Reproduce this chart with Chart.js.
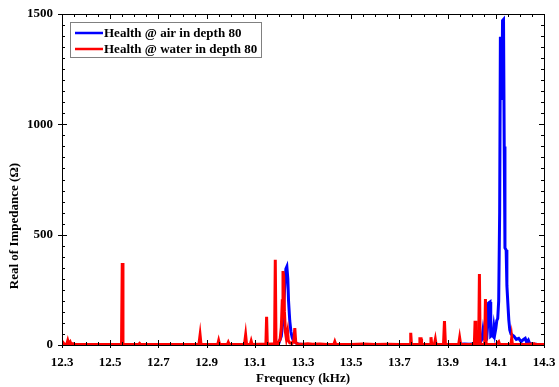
<!DOCTYPE html>
<html>
<head>
<meta charset="utf-8">
<script src="https://cdn.jsdelivr.net/npm/chart.js@4"></script>
<style>
  html, body { margin: 0; padding: 0; background: #fff; }
  #wrap { width: 559px; height: 387px; }
</style>
</head>
<body>
<div id="wrap"><canvas id="canvas" width="559" height="387"></canvas></div>
<script>
// frequency (kHz) / real impedance (ohm)
const freqAir = [
  12.300, 12.800, 13.100, 13.180, 13.190, 13.200, 13.210, 13.215, 13.220, 13.225,
  13.229, 13.233, 13.237, 13.240, 13.245, 13.250, 13.255, 13.260, 13.270, 13.280,
  13.300, 13.600, 13.900, 13.950, 13.970, 13.990, 14.000, 14.020, 14.035, 14.042,
  14.047, 14.052, 14.058, 14.062, 14.067, 14.070, 14.076, 14.079, 14.084, 14.088,
  14.092, 14.096, 14.100, 14.104, 14.108, 14.112, 14.116, 14.119, 14.122, 14.125,
  14.128, 14.132, 14.135, 14.138, 14.143, 14.146, 14.150, 14.154, 14.158, 14.163,
  14.168, 14.175, 14.185, 14.195, 14.205, 14.215, 14.222, 14.228, 14.235, 14.240,
  14.250, 14.270, 14.300
];
const impAir = [
  2, 2, 2, 3, 5, 10, 40, 90, 180, 280,
  345, 355, 300, 200, 110, 60, 35, 20, 10, 5,
  2, 2, 2, 3, 5, 3, 5, 6, 10, 25,
  68, 30, 20, 25, 100, 190, 195, 40, 45, 40,
  83, 50, 75, 110, 120, 200, 600, 1390, 1390, 1110,
  1470, 1475, 900, 440, 430, 270, 190, 113, 68, 50,
  45, 40, 25, 30, 15, 25, 30, 12, 22, 8,
  5, 3, 2
];

const freqWater = [
  12.300, 12.305, 12.310, 12.320, 12.324, 12.328, 12.334, 12.338, 12.345, 12.350,
  12.450, 12.547, 12.550, 12.553, 12.618, 12.622, 12.626, 12.700, 12.868, 12.873,
  12.877, 12.946, 12.950, 12.954, 12.986, 12.990, 12.994, 13.057, 13.062, 13.066,
  13.081, 13.085, 13.089, 13.120, 13.146, 13.149, 13.152, 13.170, 13.182, 13.185,
  13.188, 13.196, 13.200, 13.205, 13.210, 13.214, 13.217, 13.220, 13.223, 13.227,
  13.231, 13.236, 13.239, 13.245, 13.255, 13.262, 13.266, 13.270, 13.280, 13.300,
  13.320, 13.340, 13.370, 13.400, 13.428, 13.432, 13.436, 13.500, 13.550, 13.600,
  13.650, 13.700, 13.744, 13.747, 13.750, 13.783, 13.785, 13.790, 13.792, 13.828,
  13.831, 13.834, 13.845, 13.849, 13.852, 13.883, 13.887, 13.891, 13.946, 13.950,
  13.954, 13.990, 14.011, 14.014, 14.017, 14.029, 14.032, 14.035, 14.054, 14.057,
  14.060, 14.100, 14.112, 14.116, 14.163, 14.166, 14.169, 14.220, 14.260, 14.265,
  14.300
];
const impWater = [
  3, 10, 3, 4, 20, 4, 14, 3, 6, 2,
  2, 2, 372, 2, 2, 7, 2, 2, 2, 45,
  2, 2, 20, 2, 2, 12, 2, 2, 45, 2,
  2, 18, 2, 3, 3, 128, 3, 5, 4, 386,
  5, 4, 15, 25, 80, 200, 335, 310, 150, 60,
  30, 60, 20, 10, 8, 20, 77, 10, 3, 3,
  6, 3, 5, 2, 2, 15, 2, 2, 4, 2,
  3, 2, 3, 55, 3, 2, 28, 28, 2, 2,
  35, 5, 3, 25, 3, 2, 108, 2, 3, 32,
  3, 2, 2, 110, 2, 2, 322, 2, 2, 208,
  2, 2, 15, 2, 2, 32, 2, 2, 5, 2,
  2
];

const xTicks = [12.3, 12.5, 12.7, 12.9, 13.1, 13.3, 13.5, 13.7, 13.9, 14.1, 14.3];
const xTickLabels = ['12.3', '12.5', '12.7', '12.9', '13.1', '13.3', '13.5', '13.7', '13.9', '14.1', '14.3'];
const yTicks = [0, 500, 1000, 1500];
const yTickLabels = ['0', '500', '1000', '1500'];

const seriesNames = ['Health @ air in depth 80', 'Health @ water in depth 80'];
const seriesColors = ['#0000ff', '#ff0000'];

const FONT = '"Liberation Serif", "Times New Roman", serif';

const toPoints = (fs, vs) => fs.map((f, i) => ({ x: f, y: vs[i] }));

// no extra room for overhanging tick labels, keep the plot box fixed
const noPad = s => { s.paddingLeft = s.paddingRight = s.paddingTop = s.paddingBottom = 0; };

// frame, inward ticks, legend and axis titles
const framePlugin = {
  id: 'frame',
  afterDraw(chart) {
    const { ctx, chartArea: a, scales } = chart;
    const xs = scales.x, ys = scales.y;
    ctx.save();
    ctx.strokeStyle = '#000';
    ctx.lineWidth = 1;
    ctx.strokeRect(Math.round(a.left) + 0.5, Math.round(a.top) + 0.5,
      Math.round(a.right - a.left), Math.round(a.bottom - a.top));

    const line = (x1, y1, x2, y2) => {
      ctx.beginPath(); ctx.moveTo(x1, y1); ctx.lineTo(x2, y2); ctx.stroke();
    };
    // minor ticks
    for (let v = 12.3; v <= 14.3001; v += 0.05) {
      const px = Math.round(xs.getPixelForValue(v)) + 0.5;
      line(px, a.bottom, px, a.bottom - 3);
      line(px, a.top, px, a.top + 3);
    }
    for (let v = 0; v <= 1500; v += 50) {
      const py = Math.round(ys.getPixelForValue(v)) + 0.5;
      line(a.left, py, a.left + 3, py);
      line(a.right, py, a.right - 3, py);
    }
    // major ticks
    xTicks.forEach(v => {
      const px = Math.round(xs.getPixelForValue(v)) + 0.5;
      line(px, a.bottom + 3, px, a.bottom - 5);
      line(px, a.top, px, a.top + 5);
    });
    yTicks.forEach(v => {
      const py = Math.round(ys.getPixelForValue(v)) + 0.5;
      line(a.left - 4, py, a.left + 5, py);
      line(a.right, py, a.right - 5, py);
    });

    // axis titles
    ctx.fillStyle = '#000';
    ctx.font = 'bold 13px ' + FONT;
    ctx.textAlign = 'center';
    ctx.textBaseline = 'middle';
    ctx.fillText('Frequency (kHz)', (a.left + a.right) / 2, 379);
    ctx.save();
    ctx.translate(15, 226);
    ctx.rotate(-Math.PI / 2);
    ctx.fillText('Real of Impedance (\u03A9)', 0, 0);
    ctx.restore();

    // legend
    const lx = 70.5, ly = 22.5, lw = 191, lh = 35;
    ctx.fillStyle = '#fff';
    ctx.fillRect(lx, ly, lw, lh);
    ctx.strokeStyle = '#808080';
    ctx.strokeRect(lx, ly, lw, lh);
    ctx.font = 'bold 13px ' + FONT;
    ctx.textAlign = 'left';
    seriesNames.forEach((name, i) => {
      const y = 33 + i * 16;
      ctx.strokeStyle = seriesColors[i];
      ctx.lineWidth = 2.5;
      line(75, y, 103, y);
      ctx.fillStyle = '#000';
      ctx.fillText(name, 104, y + 0.5);
    });
    ctx.restore();
  }
};

new Chart('canvas', {
  type: 'line',
  data: {
    datasets: [
      {
        label: seriesNames[0],
        data: toPoints(freqAir, impAir),
        borderColor: seriesColors[0],
        borderWidth: 3,
        pointRadius: 0,
        tension: 0,
        order: 1,
      },
      {
        label: seriesNames[1],
        data: toPoints(freqWater, impWater),
        borderColor: seriesColors[1],
        borderWidth: 3,
        pointRadius: 0,
        tension: 0,
        order: 0,
      },
    ],
  },
  options: {
    responsive: false,
    animation: false,
    events: [],
    layout: { padding: { top: 14, right: 15, left: 0, bottom: 0 } },
    plugins: {
      legend: { display: false },
      tooltip: { enabled: false },
    },
    scales: {
      x: {
        type: 'linear',
        min: 12.3,
        max: 14.3,
        grid: { display: false, drawTicks: false },
        border: { display: false },
        afterBuildTicks: s => { s.ticks = xTicks.map(v => ({ value: v })); },
        afterFit: s => { s.height = 42; noPad(s); },
        ticks: {
          padding: 10,
          maxRotation: 0,
          autoSkip: false,
          color: '#000',
          font: { family: FONT, size: 13, weight: 'bold' },
          callback: (v, i) => xTickLabels[i],
        },
      },
      y: {
        min: 0,
        max: 1500,
        grid: { display: false, drawTicks: false },
        border: { display: false },
        afterBuildTicks: s => { s.ticks = yTicks.map(v => ({ value: v })); },
        afterFit: s => { s.width = 62; noPad(s); },
        ticks: {
          padding: 9,
          color: '#000',
          font: { family: FONT, size: 13, weight: 'bold' },
          callback: (v, i) => yTickLabels[i],
        },
      },
    },
  },
  plugins: [framePlugin],
});
</script>
</body>
</html>
